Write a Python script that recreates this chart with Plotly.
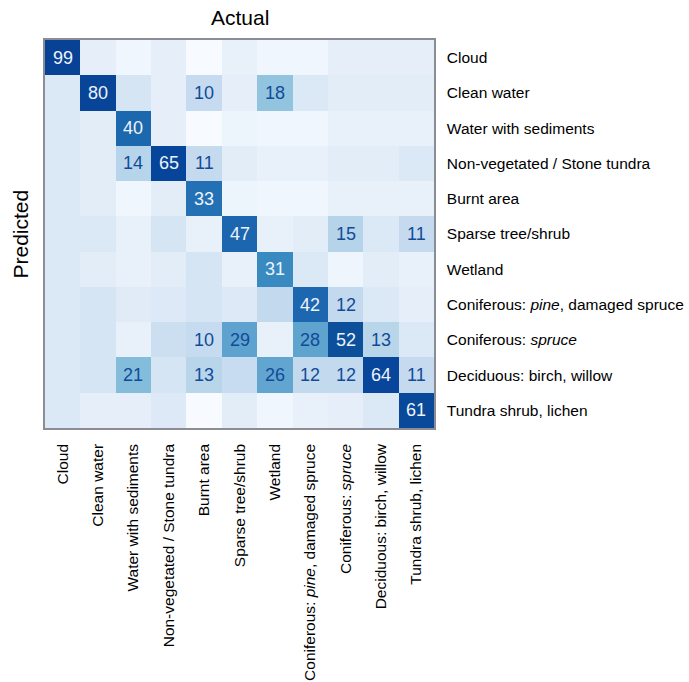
import plotly.graph_objects as go

# Land-cover classes (same order for predicted rows and actual columns)
classes = [
    "Cloud",
    "Clean water",
    "Water with sediments",
    "Non-vegetated / Stone tundra",
    "Burnt area",
    "Sparse tree/shrub",
    "Wetland",
    "Coniferous: <i>pine</i>, damaged spruce",
    "Coniferous: <i>spruce</i>",
    "Deciduous: birch, willow",
    "Tundra shrub, lichen",
]

# Confusion matrix in percent: rows = predicted, columns = actual
row_cloud      = [99, 2.5, 1, 2.5, 0, 2, 1, 1, 2.5, 2.5, 2.5]
row_clean      = [4.5, 80, 5.5, 2.5, 10, 2.5, 18, 4.5, 3, 3, 3]
row_sediments  = [4.5, 3, 40, 2.5, 0, 1.5, 1, 1, 2, 2, 2]
row_nonveg     = [4.5, 3, 14, 65, 11, 3, 2, 2, 3, 3, 4.5]
row_burnt      = [4.5, 3, 1, 3, 33, 1.5, 1, 1, 2, 2, 2]
row_sparse     = [4.5, 4.5, 2, 5.5, 2, 47, 2, 3, 15, 4.5, 11]
row_wetland    = [4.5, 3, 2, 3, 5.5, 2, 31, 4.5, 1.2, 3, 2]
row_pine       = [4.5, 5.5, 3.5, 4, 5.5, 4, 9.5, 42, 12, 4.5, 2.5]
row_spruce     = [4.5, 5.5, 2, 7.5, 10, 29, 2, 28, 52, 13, 4.5]
row_deciduous  = [4.5, 5.5, 21, 5.5, 13, 8.5, 26, 12, 12, 64, 11]
row_tundra     = [4.5, 2.5, 2.5, 4, 0, 3, 1, 2, 2.5, 4.5, 61]

matrix = [row_cloud, row_clean, row_sediments, row_nonveg, row_burnt,
          row_sparse, row_wetland, row_pine, row_spruce, row_deciduous,
          row_tundra]

LABEL_MIN = 10      # cells below this are left unlabelled
LIGHT_TEXT_MIN = 30  # cells at/above this get light text

# Blues-style colour ramp, compressed so small percentages stay visible
ramp = [
    (0, "#f7fbff"), (1, "#eff6fd"), (2, "#e8f1fa"), (3, "#e3edf8"),
    (4, "#dde9f6"), (5, "#d8e6f5"), (7, "#cfe1f2"), (9.5, "#c2d9ee"),
    (10, "#c6dbef"), (12, "#c3d9ee"), (13, "#b8d5ea"), (15, "#b6d4e9"),
    (18, "#93c4df"), (21, "#84bcdb"), (26, "#62a5d0"), (29, "#5ea2cf"),
    (31, "#3a8ac2"), (33, "#2470b4"), (40, "#1c68af"), (47, "#1b66ae"),
    (52, "#0c509c"), (61, "#084a99"), (65, "#07459a"), (80, "#084599"),
    (100, "#084296"),
]
colorscale = [[v / 100.0, c] for v, c in ramp]

n = len(classes)
idx = list(range(n))

fig = go.Figure(
    go.Heatmap(
        z=matrix,
        x=idx,
        y=idx,
        colorscale=colorscale,
        zmin=0,
        zmax=100,
        showscale=False,
        xgap=0,
        ygap=0,
        hovertemplate="Predicted: %{y}<br>Actual: %{x}<br>%{z}%<extra></extra>",
    )
)

FONT = "Liberation Sans, Arial, sans-serif"

# Percent labels in the cells
annotations = []
for r, row in enumerate(matrix):
    for c, val in enumerate(row):
        if val >= LABEL_MIN:
            annotations.append(dict(
                x=c, y=r, xref="x", yref="y",
                text=str(int(round(val))),
                showarrow=False,
                font=dict(family=FONT, size=18,
                          color="#eef3fa" if val >= LIGHT_TEXT_MIN else "#114b98"),
            ))

annotations.append(dict(
    text="Actual", xref="paper", yref="paper", x=0.5, y=1.0,
    yanchor="bottom", yshift=9, showarrow=False,
    font=dict(family=FONT, size=21, color="#000000"),
))
annotations.append(dict(
    text="Predicted", xref="paper", yref="paper", x=0.0, y=0.5,
    xanchor="right", xshift=-12, textangle=-90, showarrow=False,
    font=dict(family=FONT, size=21, color="#000000"),
))

axis_common = dict(
    tickmode="array",
    tickvals=idx,
    ticktext=classes,
    showgrid=False,
    zeroline=False,
    showline=True,
    linecolor="#8a8e94",
    linewidth=1.5,
    mirror=True,
    ticks="",
    ticklabelstandoff=8,
    automargin=False,
    tickfont=dict(family=FONT, size=15.5, color="#000000"),
)

fig.update_layout(
    width=689,
    height=682,
    margin=dict(l=45, r=255, t=40, b=254),
    paper_bgcolor="white",
    plot_bgcolor="white",
    annotations=annotations,
    xaxis=dict(axis_common, side="bottom", tickangle=-90, range=[-0.5, n - 0.5]),
    yaxis=dict(axis_common, side="right", autorange=False, range=[n - 0.5, -0.5]),
)

fig.write_html("out.html")
